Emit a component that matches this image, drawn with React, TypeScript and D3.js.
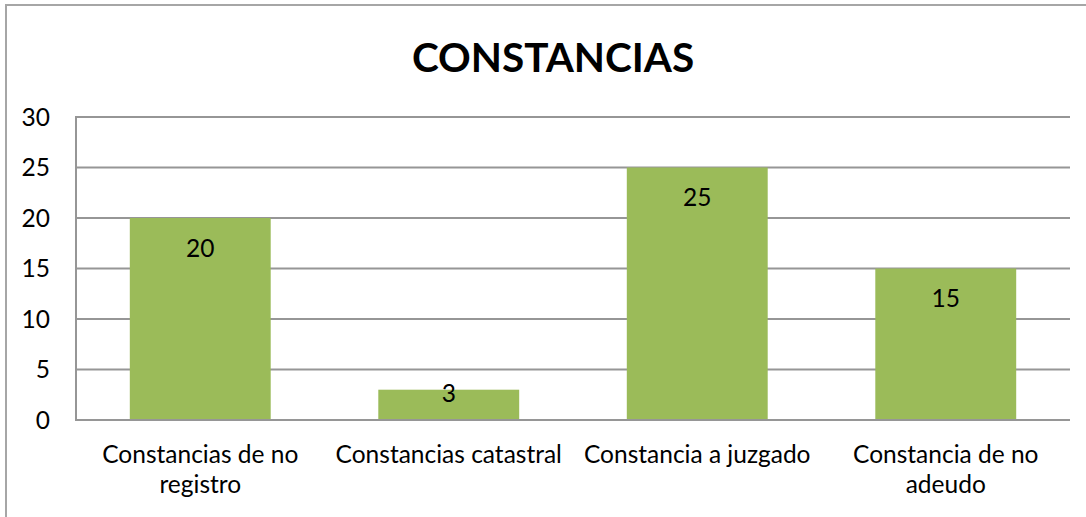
import React, { useEffect, useRef } from "react";
import * as d3 from "d3";

const categories = ["Constancias de no registro", "Constancias catastral", "Constancia a juzgado", "Constancia de no adeudo"];
const values = [20, 3, 25, 15];
const yTicks = [0, 5, 10, 15, 20, 25, 30];
const title = "CONSTANCIAS";

const W = 1086;
const H = 517;
const FONT = "Lato, 'Open Sans', sans-serif";
const LABEL_SIZE = 24.5;

function wrapLabel(text: string, maxW: number, font: string): string[] {
  const c = document.createElement("canvas").getContext("2d")!;
  c.font = font;
  const words = text.split(" ");
  const lines: string[] = [];
  let cur = "";
  for (const w of words) {
    const t = cur ? cur + " " + w : w;
    if (c.measureText(t).width > maxW && cur) {
      lines.push(cur);
      cur = w;
    } else cur = t;
  }
  if (cur) lines.push(cur);
  return lines;
}

export default function App() {
  const ref = useRef<SVGSVGElement>(null);
  useEffect(() => {
    const svg = d3.select(ref.current);
    svg.selectAll("*").remove();
    const m = { left: 76, right: 16, top: 117, bottom: 97 };
    const x = d3.scaleBand().domain(categories).range([m.left, W - m.right]).paddingInner(0.433).paddingOuter(0.2165);
    const y = d3.scaleLinear().domain([0, 30]).range([H - m.bottom, m.top]);

    svg.append("rect").attr("x", 6).attr("y", 5).attr("width", W + 20).attr("height", H + 20)
      .attr("fill", "white").attr("stroke", "#A6A6A6").attr("stroke-width", 2);

    svg.append("text").attr("x", 553).attr("y", 72).attr("text-anchor", "middle")
      .attr("font-family", FONT).attr("font-weight", "bold").attr("font-size", 40.5).attr("fill", "#000").text(title);

    const g = svg.append("g");
    g.selectAll("line.grid").data(yTicks).join("line").attr("class", "grid")
      .attr("x1", m.left).attr("x2", W - m.right).attr("y1", (d) => y(d)).attr("y2", (d) => y(d))
      .attr("stroke", "#969696").attr("stroke-width", 2);
    g.append("line").attr("x1", m.left).attr("x2", m.left).attr("y1", m.top - 1).attr("y2", y(0) + 1)
      .attr("stroke", "#969696").attr("stroke-width", 2);

    g.selectAll("text.tick").data(yTicks).join("text").attr("class", "tick")
      .attr("x", 50).attr("y", (d) => y(d)).attr("dy", "0.35em").attr("text-anchor", "end")
      .attr("font-family", FONT).attr("font-size", LABEL_SIZE).attr("fill", "#000").text((d) => String(d));

    g.selectAll("rect.bar").data(values).join("rect").attr("class", "bar")
      .attr("x", (_, i) => x(categories[i])!).attr("width", x.bandwidth())
      .attr("y", (d) => y(d)).attr("height", (d) => y(0) - y(d)).attr("fill", "#9BBB59");
    g.append("line").attr("x1", m.left).attr("x2", W - m.right).attr("y1", y(0)).attr("y2", y(0))
      .attr("stroke", "#969696").attr("stroke-width", 2);

    g.selectAll("text.val").data(values).join("text").attr("class", "val")
      .attr("x", (_, i) => x(categories[i])! + x.bandwidth() / 2)
      .attr("y", (d) => Math.min(y(d) + 30, y(0) - 27)).attr("dy", "0.35em").attr("text-anchor", "middle")
      .attr("font-family", FONT).attr("font-size", LABEL_SIZE).attr("fill", "#000").text((d) => String(d));

    const step = x.step();
    categories.forEach((c) => {
      const lines = wrapLabel(c, step - 4, `${LABEL_SIZE}px ${FONT}`);
      const t = g.append("text").attr("text-anchor", "middle").attr("font-family", FONT).attr("font-size", LABEL_SIZE).attr("fill", "#000");
      lines.forEach((l, i) => {
        t.append("tspan").attr("x", x(c)! + x.bandwidth() / 2).attr("y", 463 + i * 30).text(l);
      });
    });
  }, []);
  return (
    <div style={{ position: "absolute", left: 0, top: 0 }}>
      <svg ref={ref} width={W} height={H} style={{ display: "block" }} />
    </div>
  );
}
